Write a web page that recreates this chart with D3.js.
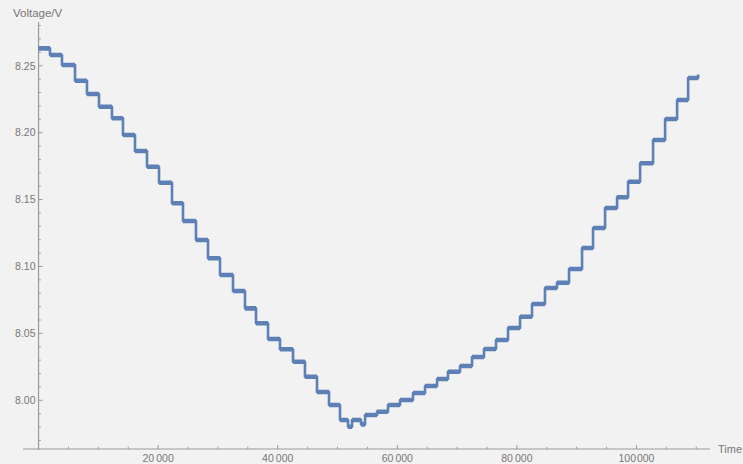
<!DOCTYPE html>
<html>
<head>
<meta charset="utf-8">
<script src="https://cdn.jsdelivr.net/npm/d3@7"></script>
<style>
  html, body { margin: 0; padding: 0; background: #f2f2f2; }
  svg { display: block; }
</style>
</head>
<body>
<svg id="chart" width="743" height="464"></svg>
<script>
// Step start times (s) and the voltage held from each one
const times = [0, 1915, 3920, 6100, 8100, 10110, 12280, 14120, 16130, 18140,
  20150, 22320, 24160, 26330, 28340, 30350, 32520, 34530, 36370, 38380,
  40380, 42560, 44560, 46570, 48580, 50420, 51760, 52430, 53940, 54610,
  56610, 58450, 60460, 62630, 64640, 66650, 68480, 70490, 72500, 74500,
  76510, 78520, 80530, 82530, 84700, 86710, 88720, 90900, 92740, 94750,
  96760, 98600, 100610, 102780, 104790, 106800, 108640, 110320];
const volts = [8.2630, 8.2580, 8.2505, 8.2388, 8.2289, 8.2194, 8.2107, 8.1982, 8.1863, 8.1745,
  8.1626, 8.1472, 8.1340, 8.1198, 8.1061, 8.0936, 8.0817, 8.0687, 8.0575, 8.0458,
  8.0381, 8.0288, 8.0176, 8.0062, 7.9965, 7.9853, 7.9803, 7.9853, 7.9820, 7.9890,
  7.9915, 7.9965, 8.0002, 8.0055, 8.0107, 8.0159, 8.0214, 8.0256, 8.0324, 8.0383,
  8.0451, 8.0540, 8.0625, 8.0720, 8.0839, 8.0879, 8.0981, 8.1138, 8.1287, 8.1437,
  8.1517, 8.1633, 8.1771, 8.1945, 8.2102, 8.2244, 8.2408, 8.2435];
// Half-width of the measurement noise band around each level (V)
const noiseHalf = 0.0017;

const xMajor = [20000, 40000, 60000, 80000, 100000];
const xMajorLabels = ["20\u2009000", "40\u2009000", "60\u2009000", "80\u2009000", "100\u200A000"];
const yMajor = [8.00, 8.05, 8.10, 8.15, 8.20, 8.25];
const yMajorLabels = ["8.00", "8.05", "8.10", "8.15", "8.20", "8.25"];
const xMinor = d3.range(5000, 112000, 5000).filter(v => v % 20000 !== 0);
const yMinor = d3.range(7.97, 8.285, 0.01).filter(v => Math.round(v * 100) % 5 !== 0);

const svg = d3.select("#chart");
const W = 743, H = 464;

svg.append("rect").attr("width", W).attr("height", H).attr("fill", "#f2f2f2");

const x = d3.scaleLinear().domain([-2600, 112300]).range([23, 710]);
const y = d3.scaleLinear().domain([7.9636, 8.2827]).range([449, 22]);

const axisColor = "#9a9a9a";
const textColor = "#777";
const font = "'Liberation Sans', Arial, sans-serif";

const x0 = x(0);

// x axis
const gx = svg.append("g").attr("transform", `translate(0,${y.range()[0]})`);
gx.append("line").attr("x1", x.range()[0]).attr("x2", x.range()[1])
  .attr("stroke", axisColor).attr("stroke-width", 1.2);
gx.selectAll("line.maj").data(xMajor).join("line").attr("class", "maj")
  .attr("x1", d => x(d)).attr("x2", d => x(d)).attr("y1", 0).attr("y2", -4)
  .attr("stroke", axisColor);
gx.selectAll("line.min").data(xMinor).join("line").attr("class", "min")
  .attr("x1", d => x(d)).attr("x2", d => x(d)).attr("y1", 0).attr("y2", -2.3)
  .attr("stroke", axisColor);
gx.selectAll("text").data(xMajor).join("text")
  .attr("x", d => x(d)).attr("y", 12.5)
  .attr("text-anchor", "middle")
  .attr("font-family", font).attr("font-size", 10.5).attr("fill", textColor)
  .text((d, i) => xMajorLabels[i]);
svg.append("text").attr("x", 718).attr("y", y.range()[0] + 3.5)
  .attr("font-family", font).attr("font-size", 11).attr("fill", textColor)
  .text("Time");

// y axis
const gy = svg.append("g").attr("transform", `translate(${x0},0)`);
gy.append("line").attr("y1", y.range()[1]).attr("y2", y.range()[0] + 1)
  .attr("stroke", axisColor).attr("stroke-width", 1.2);
gy.selectAll("line.maj").data(yMajor).join("line").attr("class", "maj")
  .attr("y1", d => y(d)).attr("y2", d => y(d)).attr("x1", 0).attr("x2", 4)
  .attr("stroke", axisColor);
gy.selectAll("line.min").data(yMinor.filter(v => v > 7.964 && v < 8.283)).join("line").attr("class", "min")
  .attr("y1", d => y(d)).attr("y2", d => y(d)).attr("x1", 0).attr("x2", 2.3)
  .attr("stroke", axisColor);
gy.selectAll("text").data(yMajor).join("text")
  .attr("x", -3).attr("y", d => y(d) + 3.8)
  .attr("text-anchor", "end")
  .attr("font-family", font).attr("font-size", 10.5).attr("fill", textColor)
  .text((d, i) => yMajorLabels[i]);
svg.append("text").attr("x", 13).attr("y", 17)
  .attr("font-family", font).attr("font-size", 11.5).attr("fill", textColor)
  .text("Voltage/V");

// voltage trace: noise band on each level plus the stepped centre line
const pts = times.map((t, i) => [t, volts[i]]);
const traceColor = "#5d80b6";
const band = d3.area()
  .x(d => x(d[0]))
  .y0(d => y(d[1] - noiseHalf))
  .y1(d => y(d[1] + noiseHalf))
  .curve(d3.curveStepAfter);
svg.append("path").datum(pts)
  .attr("d", band)
  .attr("fill", traceColor);
const line = d3.line().x(d => x(d[0])).y(d => y(d[1])).curve(d3.curveStepAfter);
svg.append("path").datum(pts)
  .attr("d", line)
  .attr("fill", "none")
  .attr("stroke", traceColor)
  .attr("stroke-width", 2.6)
  .attr("stroke-linejoin", "round");
</script>
</body>
</html>
